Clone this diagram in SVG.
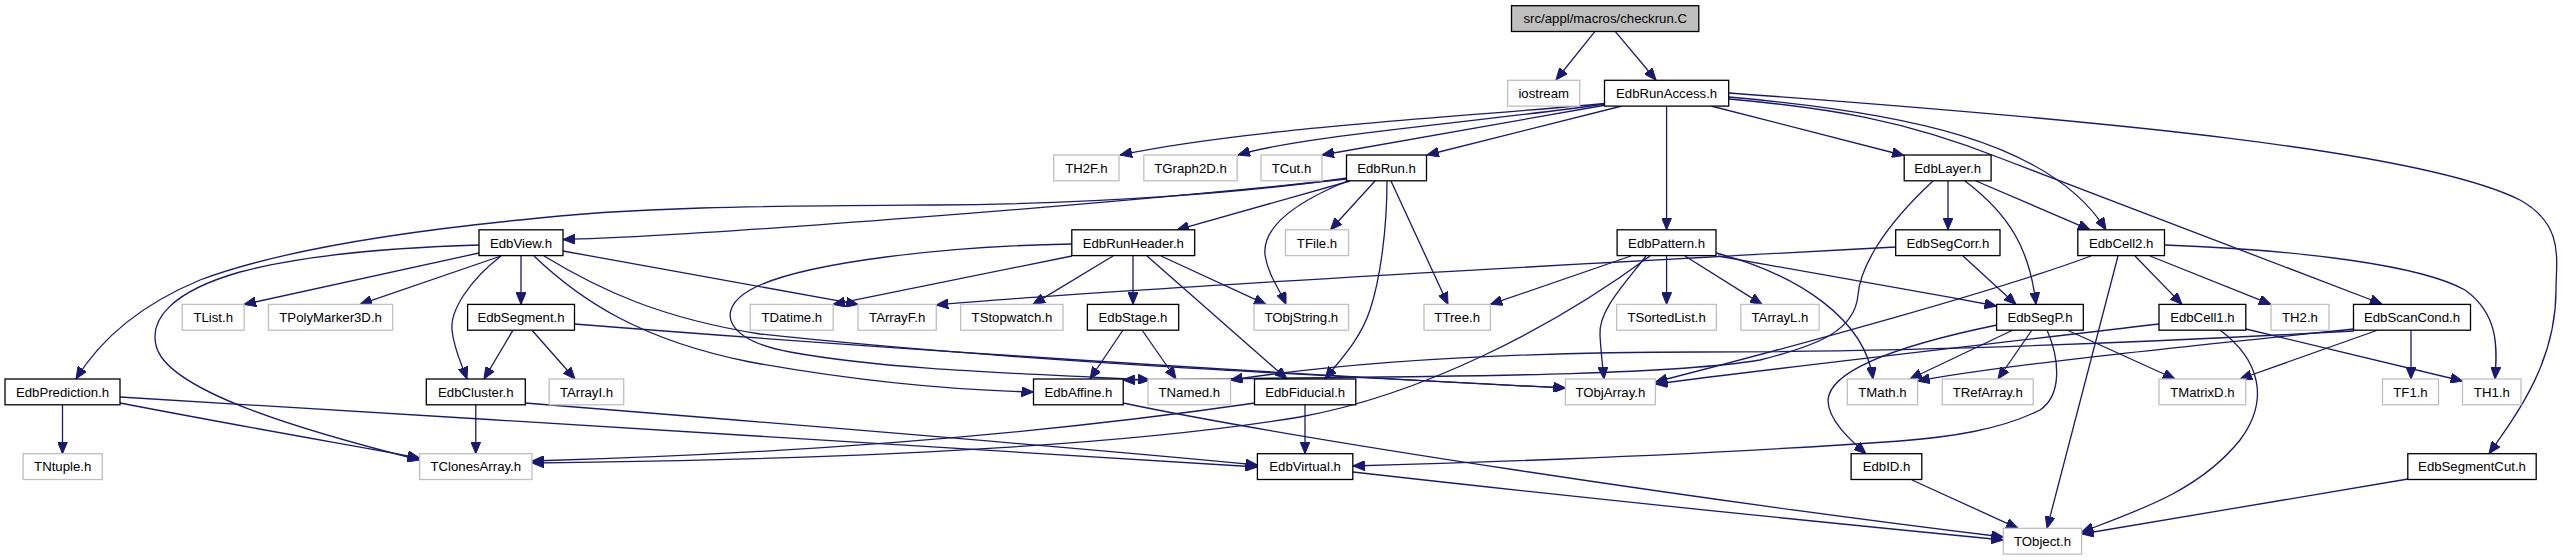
<svg xmlns="http://www.w3.org/2000/svg" width="2564" height="560" viewBox="0 0 2564 560">
<style>
.d{fill:#fff;stroke:#000;stroke-width:1.3}
.e{fill:#fff;stroke:#bfbfbf;stroke-width:1.3}
.r{fill:#bfbfbf;stroke:#000;stroke-width:1.3}
text{font-family:"Liberation Sans",Arial,sans-serif;font-size:13.2px;text-anchor:middle;fill:#000}
.l path{fill:none;stroke:#191970;stroke-width:1.3;marker-end:url(#a)}
</style>
<defs>
<marker id="a" viewBox="0 0 12 10" refX="12" refY="5" markerWidth="12" markerHeight="10" markerUnits="userSpaceOnUse" orient="auto">
<path d="M0,0 L12,5 L0,10 z" fill="#191970" stroke="#191970"/>
</marker>
</defs>
<g id="edges" class="l">
<path d="M1594.8,31.7 L1556,80"/>
<path d="M1615.4,31.7 L1656,80"/>
<path d="M1604.5,103.5 C1450,118 1250,128 1120,155"/>
<path d="M1605,104 C1480,122 1300,136 1238,155"/>
<path d="M1606,105 L1322,155"/>
<path d="M1622,106 L1427,155"/>
<path d="M1666.6,106 L1666.6,229.8"/>
<path d="M1711,106 L1904,155.5"/>
<path d="M1729,97 C1900,112 2050,140 2106,229.8"/>
<path d="M1729,99 C1830,108 1904,120 2000,158 L2382,304"/>
<path d="M1729,93 C2100,120 2420,150 2520,200 C2565,225 2556,260 2556,290 C2556,360 2520,410 2489,453.7"/>
<path d="M1347,179 C1100,205 700,236 563,239.5"/>
<path d="M1347,178 C1250,192 1100,204 935,205 C780,206 640,206 520,220 C400,232 280,250 200,280 C140,305 100,340 76,379"/>
<path d="M1350,181 L1177,229.8"/>
<path d="M1375,181 L1330.5,229.8"/>
<path d="M1350,180 C1300,200 1262,225 1265,255 C1268,275 1280,290 1286,304.4"/>
<path d="M1387,181 C1387,230 1380,280 1370,310 C1360,340 1340,360 1325,379"/>
<path d="M1391,181 L1448,304.4"/>
<path d="M479,253 L244,304.4"/>
<path d="M501,256 L360,304.4"/>
<path d="M521,255.6 L521,304.4"/>
<path d="M501,256 C470,280 450,310 452,330 C454,350 462,365 467,379"/>
<path d="M479,245 C380,248 300,256 240,272 C170,292 150,320 156,345 C165,390 300,430 419.6,460"/>
<path d="M534,256 C580,300 640,340 750,362 C850,380 950,390 1033.5,392"/>
<path d="M563,251 L858,304.4"/>
<path d="M544,256 C600,290 660,318 760,334 C1000,360 1300,375 1565.4,388"/>
<path d="M574.5,324 C800,342 1200,370 1565.4,388"/>
<path d="M1072,256 L833.2,304.4"/>
<path d="M1113,256 L1033,304.4"/>
<path d="M1133,255.6 L1133,304.4"/>
<path d="M1147,256 L1287,379"/>
<path d="M1161,256 L1266,304.4"/>
<path d="M1072,244 C950,246 800,262 750,290 C715,310 725,340 790,352 C900,372 1050,374 1150,380"/>
<path d="M1123,330 L1090,379"/>
<path d="M1142,330 L1176,379"/>
<path d="M1631,256 L1490.4,304.4"/>
<path d="M1646,256 C1628,280 1598,310 1600,335 C1601,355 1603,368 1604,379"/>
<path d="M1650,256 C1550,330 1420,395 1300,417 C1100,450 800,460 532,463"/>
<path d="M1255,403 C1000,440 750,455 532,461"/>
<path d="M1666.6,255.6 L1666.6,304.4"/>
<path d="M1685,256 L1762,304.4"/>
<path d="M1716,253 C1800,275 1865,320 1873,379"/>
<path d="M1718,256 C1800,270 1900,288 1996.6,306"/>
<path d="M1948,180.8 L1948,229.8"/>
<path d="M1965,181 C2010,215 2030,250 2036,304.4"/>
<path d="M1976,181 L2090,229.8"/>
<path d="M1933,181 C1880,230 1860,270 1858,295 C1855,330 1820,345 1760,360 C1650,378 1400,376 1123.2,380"/>
<path d="M1963,256 L2016,304.4"/>
<path d="M1896,247 C1500,268 1100,290 936.3,305"/>
<path d="M2091,256 C2000,290 1800,345 1655.4,382"/>
<path d="M2118,256 L2047,528.3"/>
<path d="M2135,256 L2182,304.4"/>
<path d="M2150,256 L2271,304.4"/>
<path d="M2165,245 C2300,250 2420,265 2465,290 C2500,315 2497,350 2495,379"/>
<path d="M2411,330.2 L2411,379"/>
<path d="M2378,330 L2240,379"/>
<path d="M2354,329 C2200,345 2000,365 1917.6,381"/>
<path d="M2013,330 L1910,379"/>
<path d="M2032,330 L1998,379"/>
<path d="M2067,330 L2175,379"/>
<path d="M2047,330 C2060,360 2062,395 2040,410 C2000,430 1950,437 1900,441 C1700,455 1500,462 1352.8,466"/>
<path d="M1997,325 C1900,345 1830,370 1828,400 C1828,420 1850,440 1866,453.7"/>
<path d="M2246,329 L2462.5,381"/>
<path d="M2220,330 C2260,360 2270,400 2240,440 C2200,490 2140,510 2081.6,532"/>
<path d="M2159,324 C2000,343 1800,365 1655.4,384"/>
<path d="M2354,331 C2100,345 1900,352 1700,352 C1500,352 1350,362 1230.5,380"/>
<path d="M1123,403 C1300,440 1700,500 2003.3,537"/>
<path d="M1353,472 C1600,500 1850,525 2003.3,540"/>
<path d="M1912,480 L2018,528.3"/>
<path d="M2408,479 L2081.6,534"/>
<path d="M1305,404.8 L1305,453.7"/>
<path d="M475.8,404.8 L475.8,453.7"/>
<path d="M525,403 C800,425 1050,445 1257.4,465"/>
<path d="M120,397 C500,420 900,445 1257.4,467"/>
<path d="M120,403 C250,428 350,445 419.6,458"/>
<path d="M62.5,404.8 L62.5,453.7"/>
<path d="M513,330.2 L484,379"/>
<path d="M532,330.2 L575,379"/>
</g>
<g id="n_checkrun"><rect class="r" x="1511.5" y="5.7" width="187.3" height="25.8"/><text x="1605.2" y="23.4">src/appl/macros/checkrun.C</text></g>
<g id="n_iostream"><rect class="e" x="1507.7" y="80.3" width="72" height="25.8"/><text x="1543.7" y="98">iostream</text></g>
<g id="n_EdbRunAccess"><rect class="d" x="1604.5" y="80.3" width="124.2" height="25.8"/><text x="1666.6" y="98">EdbRunAccess.h</text></g>
<g id="n_TH2F"><rect class="e" x="1053.7" y="155" width="65.3" height="25.8"/><text x="1086.4" y="172.7">TH2F.h</text></g>
<g id="n_TGraph2D"><rect class="e" x="1143.8" y="155" width="93.4" height="25.8"/><text x="1190.5" y="172.7">TGraph2D.h</text></g>
<g id="n_TCut"><rect class="e" x="1261" y="155" width="61" height="25.8"/><text x="1291.5" y="172.7">TCut.h</text></g>
<g id="n_EdbRun"><rect class="d" x="1346.5" y="155" width="80" height="25.8"/><text x="1386.5" y="172.7">EdbRun.h</text></g>
<g id="n_EdbLayer"><rect class="d" x="1904.2" y="155" width="86.9" height="25.8"/><text x="1947.7" y="172.7">EdbLayer.h</text></g>
<g id="n_EdbView"><rect class="d" x="479" y="229.8" width="84" height="25.8"/><text x="521" y="247.5">EdbView.h</text></g>
<g id="n_EdbRunHeader"><rect class="d" x="1071.8" y="229.8" width="122.9" height="25.8"/><text x="1133.3" y="247.5">EdbRunHeader.h</text></g>
<g id="n_TFile"><rect class="e" x="1285.5" y="229.8" width="63.1" height="25.8"/><text x="1317" y="247.5">TFile.h</text></g>
<g id="n_EdbPattern"><rect class="d" x="1617.1" y="229.8" width="98.9" height="25.8"/><text x="1666.6" y="247.5">EdbPattern.h</text></g>
<g id="n_EdbSegCorr"><rect class="d" x="1895.7" y="229.8" width="104.3" height="25.8"/><text x="1947.9" y="247.5">EdbSegCorr.h</text></g>
<g id="n_EdbCell2"><rect class="d" x="2077.8" y="229.8" width="86.7" height="25.8"/><text x="2121.2" y="247.5">EdbCell2.h</text></g>
<g id="n_TList"><rect class="e" x="182.2" y="304.4" width="61.9" height="25.8"/><text x="213.2" y="322.1">TList.h</text></g>
<g id="n_TPolyMarker3D"><rect class="e" x="268.5" y="304.4" width="124.2" height="25.8"/><text x="330.6" y="322.1">TPolyMarker3D.h</text></g>
<g id="n_EdbSegment"><rect class="d" x="467.6" y="304.4" width="106.9" height="25.8"/><text x="521" y="322.1">EdbSegment.h</text></g>
<g id="n_TDatime"><rect class="e" x="750.3" y="304.4" width="82.9" height="25.8"/><text x="791.8" y="322.1">TDatime.h</text></g>
<g id="n_TArrayF"><rect class="e" x="858" y="304.4" width="78.3" height="25.8"/><text x="897.2" y="322.1">TArrayF.h</text></g>
<g id="n_TStopwatch"><rect class="e" x="960.7" y="304.4" width="102.3" height="25.8"/><text x="1011.9" y="322.1">TStopwatch.h</text></g>
<g id="n_EdbStage"><rect class="d" x="1087.4" y="304.4" width="91.3" height="25.8"/><text x="1133" y="322.1">EdbStage.h</text></g>
<g id="n_TObjString"><rect class="e" x="1254" y="304.4" width="94.6" height="25.8"/><text x="1301.3" y="322.1">TObjString.h</text></g>
<g id="n_TTree"><rect class="e" x="1424" y="304.4" width="66.4" height="25.8"/><text x="1457.2" y="322.1">TTree.h</text></g>
<g id="n_TSortedList"><rect class="e" x="1616.7" y="304.4" width="99.7" height="25.8"/><text x="1666.6" y="322.1">TSortedList.h</text></g>
<g id="n_TArrayL"><rect class="e" x="1740.9" y="304.4" width="78.2" height="25.8"/><text x="1780" y="322.1">TArrayL.h</text></g>
<g id="n_EdbSegP"><rect class="d" x="1996.6" y="304.4" width="86.7" height="25.8"/><text x="2040" y="322.1">EdbSegP.h</text></g>
<g id="n_EdbCell1"><rect class="d" x="2159" y="304.4" width="86.8" height="25.8"/><text x="2202.4" y="322.1">EdbCell1.h</text></g>
<g id="n_TH2"><rect class="e" x="2271" y="304.4" width="58" height="25.8"/><text x="2300" y="322.1">TH2.h</text></g>
<g id="n_EdbScanCond"><rect class="d" x="2353.5" y="304.4" width="117" height="25.8"/><text x="2412" y="322.1">EdbScanCond.h</text></g>
<g id="n_EdbPrediction"><rect class="d" x="5" y="379" width="115" height="25.8"/><text x="62.5" y="396.7">EdbPrediction.h</text></g>
<g id="n_EdbCluster"><rect class="d" x="426.3" y="379" width="99" height="25.8"/><text x="475.8" y="396.7">EdbCluster.h</text></g>
<g id="n_TArrayI"><rect class="e" x="549.2" y="379" width="74.5" height="25.8"/><text x="586.5" y="396.7">TArrayI.h</text></g>
<g id="n_EdbAffine"><rect class="d" x="1033.5" y="379" width="89.7" height="25.8"/><text x="1078.4" y="396.7">EdbAffine.h</text></g>
<g id="n_TNamed"><rect class="e" x="1148" y="379" width="82.5" height="25.8"/><text x="1189.3" y="396.7">TNamed.h</text></g>
<g id="n_EdbFiducial"><rect class="d" x="1254.5" y="379" width="101.3" height="25.8"/><text x="1305.2" y="396.7">EdbFiducial.h</text></g>
<g id="n_TObjArray"><rect class="e" x="1565.4" y="379" width="90" height="25.8"/><text x="1610.4" y="396.7">TObjArray.h</text></g>
<g id="n_TMath"><rect class="e" x="1847.3" y="379" width="70.3" height="25.8"/><text x="1882.5" y="396.7">TMath.h</text></g>
<g id="n_TRefArray"><rect class="e" x="1942.3" y="379" width="90.9" height="25.8"/><text x="1987.8" y="396.7">TRefArray.h</text></g>
<g id="n_TMatrixD"><rect class="e" x="2159" y="379" width="86.8" height="25.8"/><text x="2202.4" y="396.7">TMatrixD.h</text></g>
<g id="n_TF1"><rect class="e" x="2382.5" y="379" width="56" height="25.8"/><text x="2410.5" y="396.7">TF1.h</text></g>
<g id="n_TH1"><rect class="e" x="2462.5" y="379" width="58.5" height="25.8"/><text x="2491.8" y="396.7">TH1.h</text></g>
<g id="n_TNtuple"><rect class="e" x="23.1" y="453.7" width="79.2" height="25.8"/><text x="62.7" y="471.4">TNtuple.h</text></g>
<g id="n_TClonesArray"><rect class="e" x="419.6" y="453.7" width="112.4" height="25.8"/><text x="475.8" y="471.4">TClonesArray.h</text></g>
<g id="n_EdbVirtual"><rect class="d" x="1257.4" y="453.7" width="95.4" height="25.8"/><text x="1305.1" y="471.4">EdbVirtual.h</text></g>
<g id="n_EdbID"><rect class="d" x="1851.1" y="453.7" width="70.7" height="25.8"/><text x="1886.5" y="471.4">EdbID.h</text></g>
<g id="n_EdbSegmentCut"><rect class="d" x="2407.8" y="453.7" width="128.4" height="25.8"/><text x="2472" y="471.4">EdbSegmentCut.h</text></g>
<g id="n_TObject"><rect class="e" x="2003.3" y="528.3" width="78.3" height="25.8"/><text x="2042.5" y="546">TObject.h</text></g>
</svg>
